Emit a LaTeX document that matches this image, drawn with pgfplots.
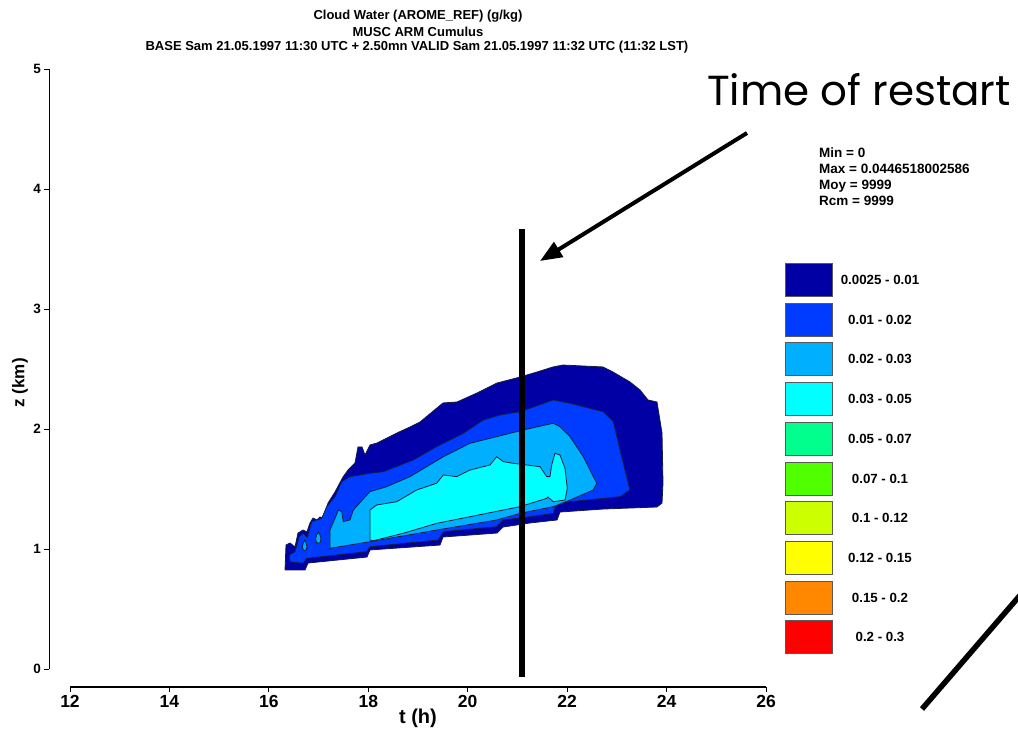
\documentclass[border=0pt]{standalone}
\usepackage{pgfplots}
\pgfplotsset{compat=1.18}
\usetikzlibrary{arrows.meta}
\usepackage{fontspec}
\setmainfont{Liberation Sans}
\newfontfamily\handfont{Poppins}

% contour class colours
\definecolor{c1}{RGB}{0,0,165}
\definecolor{c2}{RGB}{0,60,255}
\definecolor{c3}{RGB}{0,176,255}
\definecolor{c4}{RGB}{0,255,255}
\definecolor{c5}{RGB}{0,255,140}
\definecolor{c6}{RGB}{80,255,0}
\definecolor{c7}{RGB}{204,255,0}
\definecolor{c8}{RGB}{255,255,0}
\definecolor{c9}{RGB}{255,136,0}
\definecolor{c10}{RGB}{255,0,0}
\definecolor{edge}{RGB}{20,30,60}

\begin{document}
\begin{tikzpicture}
\begin{axis}[
  scale only axis, width=696pt, height=600pt,
  xmin=12, xmax=26, ymin=0, ymax=5,
  axis lines=left,
  axis line style={-},
  x axis line style={line width=1.7pt},
  y axis line style={line width=0.9pt},
  axis x line shift=18.3pt,
  axis y line shift=21pt,
  xtick={12,14,...,26}, ytick={0,1,...,5},
  tick align=outside, major tick length=4.5pt,
  tick style={black, line width=0.9pt},
  /pgf/number format/assume math mode=true,
  xticklabel style={font=\fontsize{17.5}{17.5}\selectfont\bfseries},
  yticklabel style={font=\fontsize{13.5}{14}\selectfont\bfseries},
  xlabel={t (h)}, ylabel={z (km)},
  xlabel style={at={(axis description cs:0.5,-0.0817)}, anchor=center,
                font=\fontsize{20}{20}\selectfont\bfseries},
  ylabel style={at={(axis description cs:-0.072,0.477)}, anchor=center,
                font=\fontsize{17}{17}\selectfont\bfseries},
  clip=false,
]
% 0.0025 - 0.01
\addplot[fill=c1, draw=edge, line width=0.8pt] coordinates {
 (16.325,0.825) (16.345,1.033) (16.425,1.050) (16.526,1.017) (16.586,1.133)
 (16.687,1.158) (16.767,1.142) (16.828,1.217) (16.888,1.258) (16.968,1.242)
 (17.029,1.267) (17.089,1.258) (17.190,1.383) (17.330,1.475) (17.491,1.600)
 (17.592,1.658) (17.733,1.717) (17.793,1.850) (17.874,1.850) (17.934,1.783)
 (18.034,1.867) (18.175,1.883) (18.296,1.908) (18.578,1.967) (18.839,2.017)
 (19.040,2.058) (19.503,2.217) (19.784,2.225) (20.187,2.300) (20.589,2.383)
 (21.052,2.433) (21.394,2.475) (21.716,2.517) (21.917,2.533) (22.721,2.517)
 (22.922,2.475) (23.264,2.392) (23.466,2.325) (23.626,2.242) (23.807,2.225)
 (23.908,1.967) (23.928,1.550) (23.908,1.383) (23.807,1.350) (22.721,1.333)
 (21.856,1.308) (21.796,1.242) (21.253,1.217) (20.710,1.183) (20.589,1.133)
 (19.503,1.100) (19.443,1.033) (18.034,0.992) (17.974,0.933) (16.787,0.883)
 (16.727,0.825)} -- cycle;
% 0.01 - 0.02
\addplot[fill=c2, draw=edge, line width=0.8pt] coordinates {
 (16.425,0.894) (16.411,0.950) (16.526,0.978) (16.612,1.103) (16.693,1.131)
 (16.773,1.098) (16.862,1.228) (16.962,1.242) (17.063,1.256) (17.164,1.353)
 (17.331,1.436) (17.465,1.561) (17.632,1.603) (17.833,1.617) (18.034,1.631)
 (18.302,1.644) (18.906,1.742) (19.376,1.853) (19.911,1.964) (20.314,2.075)
 (20.650,2.117) (21.052,2.144) (21.722,2.242) (22.058,2.214) (22.727,2.144)
 (22.929,2.061) (23.063,1.825) (23.230,1.548) (23.264,1.492) (23.063,1.436)
 (22.058,1.394) (21.790,1.381) (21.722,1.297) (21.253,1.269) (20.716,1.242)
 (20.583,1.186) (19.509,1.144) (19.408,1.075) (18.034,1.019) (17.968,0.978)
 (16.761,0.922) (16.693,0.881)} -- cycle;
% 0.02 - 0.03
\addplot[fill=c3, draw=edge, line width=0.8pt] coordinates {
 (17.230,0.992) (17.230,1.158) (17.331,1.256) (17.397,1.325) (17.465,1.311)
 (17.497,1.228) (17.632,1.242) (17.699,1.325) (18.034,1.478) (18.370,1.519)
 (18.839,1.603) (19.509,1.769) (20.046,1.881) (20.583,1.936) (21.118,1.992)
 (21.722,2.048) (21.856,2.019) (22.058,1.936) (22.325,1.769) (22.595,1.548)
 (22.526,1.492) (22.058,1.408) (21.722,1.353) (21.052,1.297) (20.583,1.242)
 (19.376,1.158) (18.034,1.061) (17.230,1.006)} -- cycle;
\addplot[fill=c3, draw=edge, line width=0.8pt] coordinates {
 (16.721,1.075) (16.748,1.051) (16.767,1.020) (16.754,0.995) (16.721,0.987)
 (16.688,0.995) (16.675,1.020) (16.694,1.051)} -- cycle;
\addplot[fill=c3, draw=edge, line width=0.8pt] coordinates {
 (16.995,1.142) (17.027,1.119) (17.049,1.084) (17.033,1.055) (16.995,1.047)
 (16.957,1.055) (16.941,1.084) (16.963,1.119)} -- cycle;
% 0.03 - 0.05
\addplot[fill=c4, draw=edge, line width=0.8pt] coordinates {
 (18.034,1.075) (18.034,1.325) (18.169,1.367) (18.572,1.394) (18.974,1.492)
 (19.376,1.548) (19.509,1.617) (19.779,1.603) (20.046,1.658) (20.448,1.700)
 (20.583,1.769) (20.716,1.728) (20.917,1.714) (21.187,1.700) (21.454,1.686)
 (21.589,1.603) (21.655,1.603) (21.689,1.700) (21.756,1.798) (21.856,1.783)
 (21.957,1.672) (22.003,1.506) (21.957,1.408) (21.722,1.394) (21.615,1.433)
 (21.589,1.422) (21.052,1.353) (20.046,1.269) (19.376,1.214) (18.704,1.131)
 (18.101,1.069)} -- cycle;
% time of restart
\addplot[black, line width=6pt] coordinates {(21.10,-0.067) (21.10,3.667)};
\end{axis}

\begin{scope}[shift={(-70pt,669pt)}, x=1pt, y=-1pt]
  % title block
  \begin{scope}[every node/.style={font=\fontsize{13}{13}\selectfont\bfseries, inner sep=0pt}]
    \node at (418,16) {Cloud Water (AROME\_REF) (g/kg)};
    \node at (418,31.5) {MUSC ARM Cumulus};
    \node at (417,47) {BASE Sam 21.05.1997 11:30 UTC + 2.50mn VALID Sam 21.05.1997 11:32 UTC (11:32 LST)};
  \end{scope}
  % field statistics
  \begin{scope}[every node/.style={font=\fontsize{13.5}{14}\selectfont\bfseries, inner sep=0pt, anchor=base west}]
    \node at (819,158) {Min = 0};
    \node at (819,174) {Max = 0.0446518002586};
    \node at (819,190) {Moy = 9999};
    \node at (819,206) {Rcm = 9999};
  \end{scope}
  % colour key
  \foreach \c/\lab [count=\i from 0] in {c1/0.0025 - 0.01, c2/0.01 - 0.02, c3/0.02 - 0.03,
      c4/0.03 - 0.05, c5/0.05 - 0.07, c6/0.07 - 0.1, c7/0.1 - 0.12, c8/0.12 - 0.15,
      c9/0.15 - 0.2, c10/0.2 - 0.3} {
    \pgfmathsetmacro\yc{280+39.7*\i}
    \filldraw[fill=\c, draw=black!65, line width=0.9pt] (785,\yc-16.5) rectangle (832,\yc+16.5);
    \node[font=\fontsize{13.3}{14}\selectfont\bfseries, inner sep=0pt] at (880,\yc) {\lab};
  }
  % annotation
  \node[font=\handfont\fontsize{42}{46}\selectfont, inner sep=0pt] at (859,90) {Time of restart};
  \draw[line width=4pt, -{Triangle[length=22pt,width=17pt]}] (747,133) -- (540,261);
  \draw[line width=5.5pt] (922,709) -- (1035,578);
  \pgfresetboundingbox
  \path[use as bounding box] (0,0) rectangle (1018,731);
\end{scope}
\end{tikzpicture}
\end{document}
